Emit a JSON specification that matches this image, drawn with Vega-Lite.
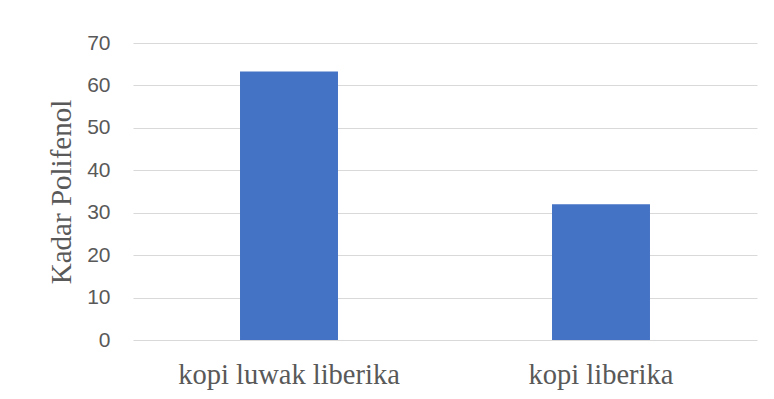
{
  "$schema": "https://vega.github.io/schema/vega-lite/v6.json",
  "width": 624,
  "height": 297,
  "autosize": "none",
  "padding": {"left": 133, "top": 43, "right": 17, "bottom": 59},
  "background": "white",
  "data": {
    "values": [
      {"sampel": "kopi luwak liberika", "kadar": 63.3},
      {"sampel": "kopi liberika", "kadar": 32.0}
    ]
  },
  "mark": {"type": "bar", "color": "#4472c4"},
  "encoding": {
    "x": {
      "field": "sampel",
      "type": "nominal",
      "sort": null,
      "scale": {"paddingInner": 0.686, "paddingOuter": 0.343},
      "axis": {
        "title": null,
        "labelAngle": 0,
        "labelFont": "Liberation Serif",
        "labelFontSize": 28.5,
        "labelColor": "#595959",
        "labelPadding": 20,
        "labelLimit": 0,
        "ticks": false,
        "domain": false,
        "grid": false
      }
    },
    "y": {
      "field": "kadar",
      "type": "quantitative",
      "scale": {"domain": [0, 70], "nice": false},
      "axis": {
        "title": "Kadar Polifenol",
        "titleFont": "Liberation Serif",
        "titleFontSize": 29,
        "titleFontWeight": "normal",
        "titleColor": "#595959",
        "titlePadding": 10,
        "values": [0, 10, 20, 30, 40, 50, 60, 70],
        "labelFont": "Liberation Sans",
        "labelFontSize": 21,
        "labelColor": "#595959",
        "labelPadding": 23,
        "ticks": false,
        "domain": false,
        "grid": true,
        "gridColor": "#d9d9d9",
        "gridWidth": 1.2
      }
    }
  },
  "config": {
    "view": {"stroke": null}
  }
}
